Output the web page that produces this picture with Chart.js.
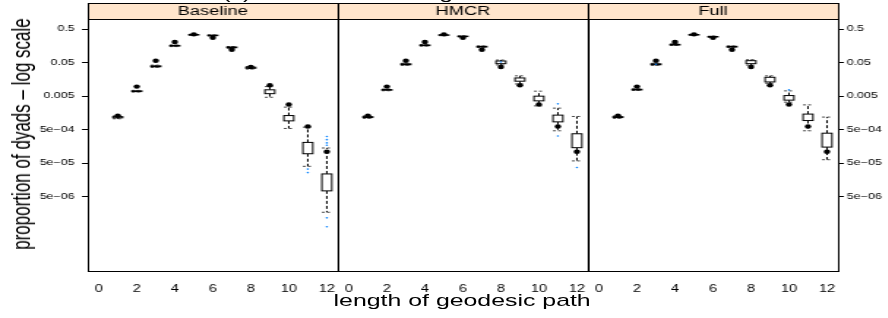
<!DOCTYPE html>
<html>
<head>
<meta charset="utf-8">
<script src="https://cdn.jsdelivr.net/npm/chart.js@4.4.0/dist/chart.umd.min.js"></script>
<style>
  body { margin: 0; background: #fff; overflow: hidden; }
  #fig {
    position: relative; width: 608px; height: 318px; overflow: hidden;
    transform: scaleX(1.4625); transform-origin: 0 0;
    font-family: "Liberation Sans", Arial, sans-serif; color: #000;
  }
  #fig canvas { position: absolute; }
  .lbl { position: absolute; white-space: nowrap; line-height: 1; }
  #title { left: 152px; top: -15px; font-size: 17px; }
  #xlab { left: 316px; top: 300px; font-size: 17px; transform: translate(-50%, -50%); }
  #ylab { left: 15px; top: 134px; font-size: 17px; transform: translate(-50%, -50%) rotate(-90deg); }
</style>
</head>
<body>
<div id="fig">
  <div class="lbl" id="title">(c) Goodness of fit: geodesic distance</div>
  <canvas id="p0" width="232" height="291" style="left:0px;top:2px"></canvas>
  <canvas id="p1" width="173" height="291" style="left:230px;top:2px"></canvas>
  <canvas id="p2" width="207" height="291" style="left:401px;top:2px"></canvas>
  <div class="lbl" id="ylab">proportion of dyads – log scale</div>
  <div class="lbl" id="xlab">length of geodesic path</div>
</div>
<script>
// ── Data ────────────────────────────────────────────────
const lengths  = [1, 2, 3, 4, 5, 6, 7, 8, 9, 10, 11, 12];
const observed = [1.29e-3, 9.6e-3, 0.057, 0.205, 0.348, 0.275, 0.121, 0.037, 0.0105, 2.8e-3, 6.2e-4, 1.09e-4];

const panelNames = ["Baseline", "HMCR", "Full"];

// simulated distributions: whisker low, lower quartile, upper quartile, whisker high
const baselineLo = [1.05e-3, 6.6e-3, 0.036, 0.150, 0.325, 0.310, 0.134, 0.032, 4.6e-3, 5.4e-4, 4.0e-5, 1.7e-6];
const baselineQ1 = [1.12e-3, 6.8e-3, 0.0375, 0.155, 0.332, 0.318, 0.139, 0.0337, 5.9e-3, 9.1e-4, 9.5e-5, 7.4e-6];
const baselineQ3 = [1.22e-3, 7.2e-3, 0.040, 0.163, 0.344, 0.330, 0.146, 0.0365, 7.7e-3, 1.31e-3, 2.07e-4, 2.37e-5];
const baselineHi = [1.28e-3, 7.4e-3, 0.042, 0.168, 0.350, 0.336, 0.151, 0.038, 9.6e-3, 2.34e-3, 5.9e-4, 1.41e-4];
const baselineOut = [[11, 3.3e-5], [11, 2.6e-5], [12, 3.1e-4], [12, 2.5e-4], [12, 2.0e-4], [12, 1.7e-4], [12, 1.16e-6], [12, 6.3e-7]];

const hmcrLo = [1.08e-3, 7.2e-3, 0.0415, 0.155, 0.318, 0.292, 0.141, 0.0425, 0.0115, 2.55e-3, 4.6e-4, 5.8e-5];
const hmcrQ1 = [1.14e-3, 7.45e-3, 0.043, 0.160, 0.325, 0.298, 0.145, 0.0464, 0.0139, 3.6e-3, 8.5e-4, 1.44e-4];
const hmcrQ3 = [1.22e-3, 7.85e-3, 0.046, 0.168, 0.337, 0.308, 0.153, 0.0558, 0.0174, 4.97e-3, 1.35e-3, 3.75e-4];
const hmcrHi = [1.28e-3, 8.1e-3, 0.0475, 0.173, 0.343, 0.314, 0.157, 0.0596, 0.0201, 7.0e-3, 2.18e-3, 1.23e-3];
const hmcrOut = [[8, 0.052], [11, 2.93e-3], [11, 3.2e-4], [12, 3.7e-5]];

const fullLo = [1.08e-3, 7.35e-3, 0.0415, 0.162, 0.325, 0.284, 0.141, 0.042, 0.0121, 3.29e-3, 4.6e-4, 6.3e-5];
const fullQ1 = [1.14e-3, 7.6e-3, 0.043, 0.167, 0.332, 0.290, 0.145, 0.0464, 0.0132, 3.78e-3, 9.3e-4, 1.5e-4];
const fullQ3 = [1.22e-3, 8.0e-3, 0.046, 0.175, 0.344, 0.300, 0.153, 0.057, 0.0182, 5.18e-3, 1.45e-3, 3.9e-4];
const fullHi = [1.28e-3, 8.25e-3, 0.0475, 0.180, 0.350, 0.306, 0.157, 0.061, 0.0201, 7.15e-3, 2.73e-3, 1.18e-3];
const fullOut = [[3, 0.0445], [10, 7.65e-3]];

const xTickValues = [0, 2, 4, 6, 8, 10, 12];
const yTickValues = [0.5, 0.05, 0.005, 5e-4, 5e-5, 5e-6];
const yTickLabels = ["0.5", "0.05", "0.005", "5e\u221204", "5e\u221205", "5e\u221206"];

// ── Helpers ─────────────────────────────────────────────
const FONT = '"Liberation Sans", Arial, sans-serif';

function line(ctx, x1, y1, x2, y2) {
  ctx.beginPath();
  ctx.moveTo(x1, y1);
  ctx.lineTo(x2, y2);
  ctx.stroke();
}

// box-and-whisker drawing + strip + panel frame
function makePanelPlugin(name, lo, q1, q3, hi) {
  return {
    id: "panel",
    beforeDatasetsDraw(chart) {
      const { ctx, scales: { x, y } } = chart;
      ctx.save();
      lengths.forEach((len, i) => {
        const cx = x.getPixelForValue(len);
        const hw = x.getPixelForValue(len + 0.26) - cx;
        const yLo = y.getPixelForValue(lo[i]);
        const yQ1 = y.getPixelForValue(q1[i]);
        const yQ3 = y.getPixelForValue(q3[i]);
        const yHi = y.getPixelForValue(hi[i]);

        ctx.lineWidth = 1;
        ctx.strokeStyle = "#000";
        ctx.setLineDash([3, 2]);
        line(ctx, cx, yQ3, cx, yHi);
        line(ctx, cx, yQ1, cx, yLo);

        ctx.strokeStyle = "#444";
        ctx.setLineDash([2, 1.5]);
        line(ctx, cx - hw, yHi, cx + hw, yHi);
        line(ctx, cx - hw, yLo, cx + hw, yLo);

        ctx.setLineDash([]);
        ctx.strokeStyle = "#000";
        ctx.fillStyle = "#fff";
        ctx.fillRect(cx - hw, yQ3, hw * 2, yQ1 - yQ3);
        ctx.strokeRect(cx - hw, yQ3, hw * 2, yQ1 - yQ3);
      });
      ctx.restore();
    },
    afterDraw(chart) {
      const { ctx, chartArea: { left, top, right, bottom } } = chart;
      ctx.save();
      ctx.fillStyle = "#FFE5CC";
      ctx.fillRect(left, top - 16, right - left, 16);
      ctx.strokeStyle = "#000";
      ctx.lineWidth = 1;
      ctx.strokeRect(left + 0.5, top - 15.5, right - left, 16);
      ctx.strokeRect(left + 0.5, top + 0.5, right - left, bottom - top);
      ctx.fillStyle = "#000";
      ctx.font = "12.5px " + FONT;
      ctx.textAlign = "center";
      ctx.textBaseline = "middle";
      ctx.fillText(name, (left + right) / 2, top - 7);
      ctx.restore();
    }
  };
}

// ── Charts ──────────────────────────────────────────────
function createPanel(canvasId, idx, lo, q1, q3, hi, out, side, padding) {
  return new Chart(document.getElementById(canvasId), {
    type: "scatter",
    data: {
      datasets: [
        {
          label: "outliers",
          data: out.map(([x, v]) => ({ x, y: v })),
          backgroundColor: "#0080ff",
          borderWidth: 0,
          pointRadius: 0.8
        },
        {
          label: "observed",
          data: lengths.map((x, i) => ({ x, y: observed[i] })),
          backgroundColor: "#000",
          borderWidth: 0,
          pointRadius: 2.2
        }
      ]
    },
    options: {
      responsive: false,
      animation: false,
      layout: { padding, autoPadding: false },
      plugins: { legend: { display: false }, tooltip: { enabled: false } },
      scales: {
        x: {
          type: "linear",
          min: -0.58,
          max: 12.58,
          afterBuildTicks: (s) => { s.ticks = xTickValues.map((v) => ({ value: v })); },
          afterFit: (s) => {
            s.height = 22;
            s.paddingLeft = 0;
            s.paddingRight = 0;
          },
          grid: { display: false },
          border: { display: false },
          ticks: { color: "#000", padding: 4, maxRotation: 0, autoSkip: false, font: { family: FONT, size: 10 } }
        },
        y: {
          type: "logarithmic",
          min: Math.pow(10, -7.5),
          max: 1,
          position: side || "left",
          display: !!side,
          afterBuildTicks: (s) => { s.ticks = yTickValues.map((v) => ({ value: v })); },
          afterFit: (s) => {
            s.width = side === "right" ? 35 : side === "left" ? 60 : 0;
            s.paddingTop = 0;
            s.paddingBottom = 0;
          },
          grid: { drawOnChartArea: false, drawTicks: true, tickLength: 4, color: "#000" },
          border: { display: false },
          ticks: {
            color: "#000",
            padding: side === "right" ? 2 : 5,
            autoSkip: false,
            font: { family: FONT, size: 8.5 },
            callback: (v, i) => yTickLabels[i]
          }
        }
      }
    },
    plugins: [makePanelPlugin(panelNames[idx], lo, q1, q3, hi)]
  });
}

createPanel("p0", 0, baselineLo, baselineQ1, baselineQ3, baselineHi, baselineOut, "left",  { top: 17, left: 0, right: 1, bottom: 0 });
createPanel("p1", 1, hmcrLo, hmcrQ1, hmcrQ3, hmcrHi, hmcrOut, null, { top: 17, left: 1, right: 1, bottom: 0 });
createPanel("p2", 2, fullLo, fullQ1, fullQ3, fullHi, fullOut, "right", { top: 17, left: 1, right: 0, bottom: 0 });
</script>
</body>
</html>
